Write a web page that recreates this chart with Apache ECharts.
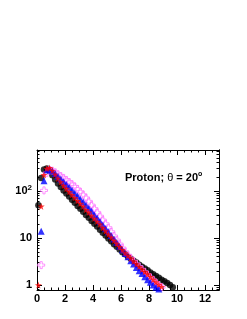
<!DOCTYPE html>
<html><head><meta charset="utf-8">
<script src="https://cdn.jsdelivr.net/npm/echarts@6/dist/echarts.min.js"></script>
<style>html,body{margin:0;padding:0;background:#fff}#c{width:247px;height:319px}</style>
</head><body><div id="c"></div>
<script>
// ---- data ----
var xBlack = [0.1,0.3,0.5,0.7,0.9,1.1,1.3,1.5,1.7,1.9,2.1,2.3,2.5,2.7,2.9,3.1,3.3,3.5,3.7,3.9,4.1,4.3,4.5,4.7,4.9,5.1,5.3,5.5,5.7,5.9,6.1,6.3,6.5,6.7,6.9,7.1,7.3,7.5,7.7,7.9,8.1,8.3,8.5,8.7,8.9,9.1,9.3,9.5,9.7];
var yBlack = [50,190,285,300,265,215,175,145,122,103,88,76,65,56,48,42,36,31,27,23,20,17.5,15,13,11.3,9.8,8.5,7.4,6.5,5.7,5.0,4.5,4.0,3.6,3.3,3.0,2.7,2.45,2.25,2.05,1.85,1.7,1.55,1.42,1.3,1.2,1.1,1.0,0.9];
var xRed = [0.1,0.3,0.5,0.7,0.9,1.1,1.3,1.5,1.7,1.9,2.1,2.3,2.5,2.7,2.9,3.1,3.3,3.5,3.7,3.9,4.1,4.3,4.5,4.7,4.9,5.1,5.3,5.5,5.7,5.9,6.1,6.3,6.5,6.7,6.9,7.1,7.3,7.5,7.7,7.9,8.1,8.3,8.5,8.7,8.9];
var yRed = [1.0,47,220,300,310,270,225,185,155,130,112,96,83,72,62,54,47,40,35,30,26,22.5,19.5,16.5,14,12,10.3,8.8,7.6,6.5,5.6,4.8,4.2,3.7,3.2,2.8,2.45,2.15,1.9,1.7,1.5,1.3,1.15,1.02,0.92];
var xBlue = [0.3,0.5,0.7,0.9,1.1,1.3,1.5,1.7,1.9,2.1,2.3,2.5,2.7,2.9,3.1,3.3,3.5,3.7,3.9,4.1,4.3,4.5,4.7,4.9,5.1,5.3,5.5,5.7,5.9,6.1,6.3,6.5,6.7,6.9,7.1,7.3,7.5,7.7,7.9,8.1,8.3,8.5,8.7];
var yBlue = [14,165,280,290,265,235,205,180,158,138,120,104,90,78,67,58,50,43,37,31,26.5,22.5,19,16,13.5,11.3,9.5,8.0,6.7,5.6,4.7,4.0,3.3,2.8,2.35,2.0,1.75,1.5,1.3,1.15,1.0,0.9,0.82];
var xPink = [0.3,0.5,0.7,0.9,1.1,1.3,1.5,1.7,1.9,2.1,2.3,2.5,2.7,2.9,3.1,3.3,3.5,3.7,3.9,4.1,4.3,4.5,4.7,4.9,5.1,5.3,5.5,5.7,5.9,6.1,6.3,6.5,6.7,6.9,7.1,7.3,7.5,7.7,7.9,8.1,8.3,8.5,8.7,8.9];
var yPink = [2.65,103,240,280,270,250,228,208,190,172,155,140,125,110,96,83,71,60,50,42,35,29,24,20,16.5,13.5,11,9,7.4,6.1,5.1,4.3,3.7,3.2,2.8,2.45,2.15,1.9,1.65,1.45,1.28,1.12,1.0,0.9];
var xTicks = [0,2,4,6,8,10,12];
var yMajor = [1,10,100];
var yMinor = [0.8,0.9,2,3,4,5,6,7,8,9,20,30,40,50,60,70,80,90,200,300,400,500,600,700];

// ---- chart ----
var X_MIN = 0, X_MAX = 13, Y_MIN = 0.783, Y_MAX = 745;
function zip(xs, ys){ return xs.map(function(x,i){ return [x, ys[i]]; }); }
var STAR = 'path://M50,0 L61,35 L98,35 L68,57 L79,91 L50,70 L21,91 L32,57 L2,35 L39,35 Z';
var CROSS = 'path://M35,0 L65,0 L65,35 L100,35 L100,65 L65,65 L65,100 L35,100 L35,65 L0,65 L0,35 L35,35 Z';
var FONT = 'Liberation Sans';
var lg = function(v){ return Math.log(v)/Math.LN10; };

var chart = echarts.init(document.getElementById('c'), null, {renderer:'canvas'});
var lineStyle = {color:'#000', width:1};
var yLogMin = lg(Y_MIN), yLogMax = lg(Y_MAX);
function tickAxis(pos, vals, len, showLine){
  return {type:'value', position:pos, min:yLogMin, max:yLogMax,
    axisLine:{show:showLine, onZero:false, lineStyle:lineStyle},
    axisTick:{show:true, inside:true, length:len, lineStyle:lineStyle, customValues: vals.map(lg)},
    axisLabel:{show:false}, splitLine:{show:false}};
}
chart.setOption({
  animation:false,
  backgroundColor:'#fff',
  grid:{left:37, top:150, width:182, height:140, containLabel:false},
  xAxis:[
    {type:'value', position:'bottom', min:X_MIN, max:X_MAX, interval:2,
      axisLine:{show:true, onZero:false, lineStyle:lineStyle},
      axisTick:{inside:true, length:5, lineStyle:lineStyle, customValues: xTicks},
      minorTick:{show:true, splitNumber:4, length:2.5, lineStyle:lineStyle},
      axisLabel:{show:true, margin:3, color:'#000', fontFamily:FONT, fontWeight:'bold', fontSize:11, customValues: xTicks},
      splitLine:{show:false}},
    {type:'value', position:'top', min:X_MIN, max:X_MAX, interval:2,
      axisLine:{show:true, onZero:false, lineStyle:lineStyle},
      axisTick:{inside:true, length:5, lineStyle:lineStyle},
      minorTick:{show:true, splitNumber:4, length:2.5, lineStyle:lineStyle},
      axisLabel:{show:false}, splitLine:{show:false}}
  ],
  yAxis:[
    {type:'log', logBase:10, position:'left', min:Y_MIN, max:Y_MAX,
      axisLine:{show:true, onZero:false, lineStyle:lineStyle},
      axisTick:{show:false},
      axisLabel:{show:true, margin:5, color:'#000', fontFamily:FONT, fontWeight:'bold', fontSize:11,
        customValues: yMajor,
        formatter:function(v){ if (v>=99) return '10{sup|2}'; if (v>=9) return '10'; return '1'; },
        rich:{sup:{fontSize:8, fontWeight:'bold', fontFamily:FONT, color:'#000', padding:[0,0,6,0]}}},
      splitLine:{show:false}},
    tickAxis('left', yMajor, 5, false),
    tickAxis('left', yMinor, 2.5, false),
    tickAxis('right', yMajor, 5, true),
    tickAxis('right', yMinor, 2.5, true)
  ],
  graphic:[{type:'text', left:125, top:171, style:{
    text:'Proton; {t|θ} = 20{sup|o}', fill:'#000', font:'bold 11px "Liberation Sans"',
    rich:{t:{fontSize:11, fontFamily:FONT, fontWeight:'normal'}, sup:{fontSize:7, fontWeight:'bold', fontFamily:FONT, padding:[0,0,6,0]}}
  }}],
  series:[
    {type:'scatter', xAxisIndex:0, yAxisIndex:0, data:zip(xBlack,yBlack), symbol:'circle', symbolSize:6.5,
      itemStyle:{color:'#000'}},
    {type:'scatter', xAxisIndex:0, yAxisIndex:0, data:zip(xPink,yPink), symbol:CROSS, symbolSize:7,
      itemStyle:{color:'rgba(0,0,0,0)', borderColor:'#ff77ff', borderWidth:1}},
    {type:'scatter', xAxisIndex:0, yAxisIndex:0, data:zip(xBlue,yBlue), symbol:'triangle', symbolSize:7,
      itemStyle:{color:'#0000ff'}},
    {type:'scatter', xAxisIndex:0, yAxisIndex:0, data:zip(xRed,yRed), symbol:STAR, symbolSize:7,
      itemStyle:{color:'#ff0000'}}
  ]
});
</script></body></html>
